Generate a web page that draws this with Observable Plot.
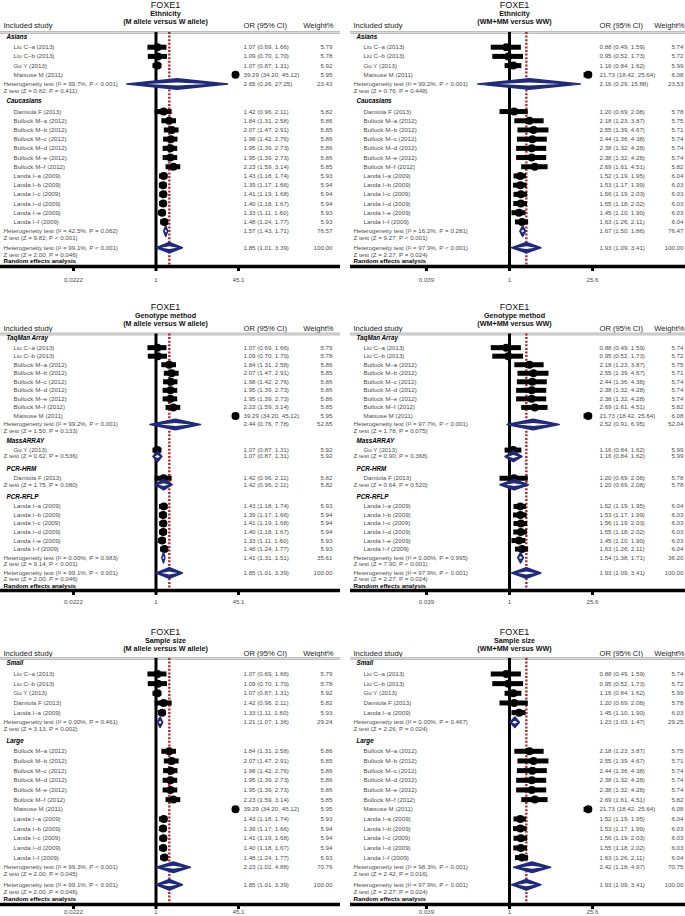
<!DOCTYPE html>
<html>
<head>
<meta charset="utf-8">
<script src="https://cdn.jsdelivr.net/npm/d3@7"></script>
<script src="https://cdn.jsdelivr.net/npm/@observablehq/plot@0.6"></script>
<style>
  html,body{margin:0;padding:0;background:#fff;}
  #fig{position:relative;width:685px;height:916px;overflow:hidden;background:#fff;}
  #fig > div{position:absolute;}
  #fig svg{display:block;overflow:visible;}
</style>
</head>
<body>
<div id="fig"></div>
<script>
// ---------- DATA ----------
const studyNames = ["Liu C–a (2013)","Liu C–b (2013)","Gu Y (2013)","Matsuse M (2011)","Damiola F (2013)",
  "Bullock M–a (2012)","Bullock M–b (2012)","Bullock M–c (2012)","Bullock M–d (2012)","Bullock M–e (2012)","Bullock M–f (2012)",
  "Landa I–a (2009)","Landa I–b (2009)","Landa I–c (2009)","Landa I–d (2009)","Landa I–e (2009)","Landa I–f (2009)"];

// M allele versus W allele
const alleleOR = [1.07,1.09,1.07,39.29,1.42,1.84,2.07,1.98,1.95,1.95,2.23,1.43,1.39,1.41,1.40,1.33,1.48];
const alleleLo = [0.69,0.70,0.87,34.20,0.96,1.31,1.47,1.42,1.39,1.39,1.59,1.18,1.17,1.19,1.18,1.11,1.24];
const alleleHi = [1.66,1.70,1.31,45.12,2.11,2.58,2.91,2.76,2.73,2.73,3.14,1.74,1.66,1.68,1.67,1.60,1.77];
const alleleW  = [5.79,5.78,5.92,5.95,5.82,5.86,5.85,5.86,5.86,5.86,5.85,5.93,5.94,5.94,5.94,5.93,5.93];
const alleleOverall = [1.85,1.01,3.39,100.00];
const alleleOverallStats = ["99.1%","< 0.001","2.00","= 0.046"];
const alleleTicks = [0.0222,1,45.1];
const alleleTickLabels = ["0.0222","1","45.1"];

// WM+MM versus WW
const domOR = [0.88,0.95,1.16,21.73,1.20,2.18,2.55,2.44,2.38,2.38,2.69,1.52,1.53,1.56,1.55,1.45,1.63];
const domLo = [0.49,0.52,0.84,18.42,0.69,1.23,1.39,1.36,1.32,1.32,1.61,1.19,1.17,1.19,1.18,1.10,1.26];
const domHi = [1.59,1.73,1.62,25.64,2.08,3.87,4.67,4.38,4.28,4.28,4.51,1.95,1.99,2.03,2.02,1.90,2.11];
const domW  = [5.74,5.72,5.99,6.08,5.78,5.75,5.71,5.74,5.74,5.74,5.82,6.04,6.03,6.03,6.03,6.03,6.04];
const domOverall = [1.93,1.09,3.41,100.00];
const domOverallStats = ["97.9%","< 0.001","2.27","= 0.024"];
const domTicks = [0.039,1,25.6];
const domTickLabels = ["0.039","1","25.6"];

// subgroupings (indices into studyNames)
const ethnicityGroups = ["Asians","Caucasians"];
const ethnicityMembers = [[0,1,2,3],[4,5,6,7,8,9,10,11,12,13,14,15,16]];
const methodGroups = ["TaqMan Array","MassARRAY","PCR-HRM","PCR-RFLP"];
const methodMembers = [[0,1,5,6,7,8,9,10,3],[2],[4],[11,12,13,14,15,16]];
const sizeGroups = ["Small","Large"];
const sizeMembers = [[0,1,2,4,15],[5,6,7,8,9,10,3,11,12,13,14,16]];
const sizeLabels = [[null,null,null,null,"Landa I–a (2009)"], null]; // as printed

// subgroup pooled results: [OR, lo, hi, weight]
const ethAlleleSub = [[2.65,0.26,27.25,23.43],[1.57,1.43,1.71,76.57]];
const ethAlleleI2 = ["99.7%","42.5%"], ethAlleleHetP = ["< 0.001","= 0.062"];
const ethAlleleZ = ["0.82","9.82"], ethAlleleZP = ["= 0.411","< 0.001"];

const ethDomSub = [[2.16,0.29,15.88,23.53],[1.67,1.50,1.86,76.47]];
const ethDomI2 = ["99.2%","16.2%"], ethDomHetP = ["< 0.001","= 0.281"];
const ethDomZ = ["0.76","9.27"], ethDomZP = ["= 0.448","< 0.001"];

const metAlleleSub = [[2.44,0.76,7.78,52.65],[1.07,0.87,1.31,5.92],[1.42,0.96,2.11,5.82],[1.41,1.31,1.51,35.61]];
const metAlleleI2 = ["99.2%",null,null,"0.00%"], metAlleleHetP = ["< 0.001",null,null,"= 0.983"];
const metAlleleZ = ["1.50","0.62","1.75","9.14"], metAlleleZP = ["= 0.133","= 0.536","= 0.080","< 0.001"];

const metDomSub = [[2.52,0.91,6.95,52.04],[1.16,0.84,1.62,5.99],[1.20,0.69,2.08,5.78],[1.54,1.38,1.71,36.20]];
const metDomI2 = ["97.7%",null,null,"0.00%"], metDomHetP = ["< 0.001",null,null,"= 0.995"];
const metDomZ = ["1.78","0.90","0.64","7.90"], metDomZP = ["= 0.075","= 0.368","= 0.520","< 0.001"];

const sizAlleleSub = [[1.21,1.07,1.36,29.24],[2.23,1.02,4.88,70.76]];
const sizAlleleI2 = ["0.00%","99.3%"], sizAlleleHetP = ["= 0.461","< 0.001"];
const sizAlleleZ = ["3.13","2.00"], sizAlleleZP = ["= 0.002","= 0.045"];

const sizDomSub = [[1.23,1.03,1.47,29.25],[2.42,1.18,4.97,70.75]];
const sizDomI2 = ["0.00%","98.3%"], sizDomHetP = ["= 0.467","< 0.001"];
const sizDomZ = ["2.26","2.42"], sizDomZP = ["= 0.024","= 0.016"];

// ---------- LAYOUT ----------
const models = {
  allele: {or: alleleOR, lo: alleleLo, hi: alleleHi, w: alleleW, overall: alleleOverall, stats: alleleOverallStats,
           ticks: alleleTicks, tickLabels: alleleTickLabels, title: "(M allele versus W allele)"},
  dom: {or: domOR, lo: domLo, hi: domHi, w: domW, overall: domOverall, stats: domOverallStats,
        ticks: domTicks, tickLabels: domTickLabels, title: "(WM+MM versus WW)"}
};
const panels = [
  {row:0, col:0, model:"allele", subtitle:"Ethnicity", groups:ethnicityGroups, members:ethnicityMembers, labels:null, sub:ethAlleleSub, I2:ethAlleleI2, hetP:ethAlleleHetP, Z:ethAlleleZ, zP:ethAlleleZP},
  {row:0, col:1, model:"dom", subtitle:"Ethnicity", groups:ethnicityGroups, members:ethnicityMembers, labels:null, sub:ethDomSub, I2:ethDomI2, hetP:ethDomHetP, Z:ethDomZ, zP:ethDomZP},
  {row:1, col:0, model:"allele", subtitle:"Genotype method", groups:methodGroups, members:methodMembers, labels:null, sub:metAlleleSub, I2:metAlleleI2, hetP:metAlleleHetP, Z:metAlleleZ, zP:metAlleleZP},
  {row:1, col:1, model:"dom", subtitle:"Genotype method", groups:methodGroups, members:methodMembers, labels:null, sub:metDomSub, I2:metDomI2, hetP:metDomHetP, Z:metDomZ, zP:metDomZP},
  {row:2, col:0, model:"allele", subtitle:"Sample size", groups:sizeGroups, members:sizeMembers, labels:sizeLabels, sub:sizAlleleSub, I2:sizAlleleI2, hetP:sizAlleleHetP, Z:sizAlleleZ, zP:sizAlleleZP},
  {row:2, col:1, model:"dom", subtitle:"Sample size", groups:sizeGroups, members:sizeMembers, labels:sizeLabels, sub:sizDomSub, I2:sizDomI2, hetP:sizDomHetP, Z:sizDomZ, zP:sizDomZP}
];
const rowGeom = [
  {top:0,   height:300, L:32,   A:266, titleY:[5,13.6,21.5],   headY:24.8, tickDy:14},
  {top:300, height:326, L:33.5, A:290, titleY:[6.2,15,23.2],   headY:28.3, tickDy:11.5},
  {top:626, height:290, L:32,   A:278, titleY:[5.5,14.6,22.4], headY:27.3, tickDy:8}
];
const colGeom = [
  {left:0,   width:340, range:[73,238], titleX:165, orX:243, wX:332},
  {left:350, width:335, range:[76,242], titleX:164, orX:249, wX:333}
];
const NAVY = "#1f2a7c", RED = "#b0262c", GREY = "#4d4d4d", FONT = "Liberation Sans, Arial, sans-serif";
const fmt = r => `${r.or.toFixed(2)} (${r.lo.toFixed(2)}, ${r.hi.toFixed(2)})`;

function drawPanel(p) {
  const m = models[p.model], rg = rowGeom[p.row], cg = colGeom[p.col];
  const rows = []; let u = 0, prev = null;
  p.groups.forEach((g, gi) => {
    u += gi === 0 ? 0.5 : (prev === "het" ? 1.9 : 1.45);
    rows.push({type:"group", u, label:g});
    u += 1.1;
    p.members[gi].forEach((k, i) => {
      if (i > 0) u += 1;
      const lab = p.labels && p.labels[gi] && p.labels[gi][i];
      rows.push({type:"study", u, label: lab || studyNames[k], or:m.or[k], lo:m.lo[k], hi:m.hi[k], w:m.w[k]});
    });
    const s = p.sub[gi];
    if (p.I2[gi]) {
      u += 1;
      rows.push({type:"sum", u, or:s[0], lo:s[1], hi:s[2], w:s[3]});
      rows.push({type:"note", u, label:`Heterogeneity test (I² = ${p.I2[gi]}, P ${p.hetP[gi]})`});
      rows.push({type:"note", u:u + 0.72, label:`Z test (Z = ${p.Z[gi]}, P ${p.zP[gi]})`});
      prev = "het";
    } else {
      u += 0.75;
      rows.push({type:"sum", u, or:s[0], lo:s[1], hi:s[2], w:s[3]});
      rows.push({type:"note", u, label:`Z test (Z = ${p.Z[gi]}, P ${p.zP[gi]})`});
      prev = "z";
    }
  });
  u += 1.8;
  const o = m.overall, os = m.stats;
  rows.push({type:"sum", u, or:o[0], lo:o[1], hi:o[2], w:o[3]});
  rows.push({type:"note", u, label:`Heterogeneity test (I² = ${os[0]}, P ${os[1]})`});
  rows.push({type:"note", u:u + 0.75, label:`Z test (Z = ${os[2]}, P ${os[3]})`});
  rows.push({type:"bold", u:u + 1.48, label:"Random effects analysis"});
  const U = u + 2.05;
  const pxPerUnit = (rg.A - rg.L) / U;
  const h = 5.2 / pxPerUnit;

  const studies = rows.filter(r => r.type === "study");
  const sums = rows.filter(r => r.type === "sum");
  const valued = rows.filter(r => r.type === "study" || r.type === "sum");
  const diamond = [], inner = [];
  sums.forEach((r, i) => {
    diamond.push({id:i, x:r.lo, y:r.u}, {id:i, x:r.or, y:r.u - h}, {id:i, x:r.hi, y:r.u}, {id:i, x:r.or, y:r.u + h}, {id:i, x:r.lo, y:r.u});
    const il = Math.exp(Math.log(r.or) - 0.6 * Math.log(r.or / r.lo));
    const ih = Math.exp(Math.log(r.or) + 0.6 * Math.log(r.hi / r.or));
    inner.push({id:i, x:il, y:r.u}, {id:i, x:r.or, y:r.u - h * 0.28}, {id:i, x:ih, y:r.u}, {id:i, x:r.or, y:r.u + h * 0.28}, {id:i, x:il, y:r.u});
  });

  const small = {fontSize: 6.2, fill: GREY};
  const head = {frameAnchor: "top-left", lineAnchor: "middle"};
  const chart = Plot.plot({
    width: cg.width, height: rg.height,
    marginTop: 0, marginRight: 0, marginBottom: 0, marginLeft: 0,
    x: {type: "log", domain: [m.ticks[0], m.ticks[2]], range: cg.range, axis: null},
    y: {domain: [0, U], range: [rg.L, rg.A], axis: null},
    style: {fontFamily: FONT, background: "white", overflow: "visible"},
    marks: [
      // titles and column headings
      Plot.text(["FOXE1"], {...head, dx: cg.titleX, dy: rg.titleY[0], textAnchor: "middle", fontSize: 9, fill: "#111"}),
      Plot.text([p.subtitle], {...head, dx: cg.titleX, dy: rg.titleY[1], textAnchor: "middle", fontSize: 7.2, fontWeight: "bold", fill: "#111"}),
      Plot.text([m.title], {...head, dx: cg.titleX, dy: rg.titleY[2], textAnchor: "middle", fontSize: 7.2, fontWeight: "bold", fill: "#111"}),
      Plot.text(["Included study"], {...head, dx: 3, dy: rg.headY, textAnchor: "start", fontSize: 7.6, fill: "#222"}),
      Plot.text(["OR (95% CI)"], {...head, dx: cg.orX, dy: rg.headY, textAnchor: "start", fontSize: 7.6, fill: "#222"}),
      Plot.text(["Weight%"], {...head, dx: cg.wX + 1, dy: rg.headY, textAnchor: "end", fontSize: 7.6, fill: "#222"}),
      // header rule
      Plot.ruleY([0], {stroke: "#bdbdbd", strokeWidth: 3}),
      Plot.ruleY([0], {stroke: "#e6e6e6", strokeWidth: 0.7}),
      // reference lines and axis
      Plot.ruleX([o[0]], {y1: 0, y2: U, stroke: RED, strokeWidth: 2.4, strokeDasharray: "2,1.6"}),
      Plot.ruleX([1], {y1: 0, y2: U, stroke: "black", strokeWidth: 3}),
      Plot.ruleY([U], {stroke: "black", strokeWidth: 3.5}),
      Plot.ruleX(m.ticks, {x: d => d, y1: U, y2: U + 5 / pxPerUnit, stroke: "black", strokeWidth: 3}),
      Plot.text(m.ticks, {x: d => d, y: U, dy: rg.tickDy, text: (d, i) => m.tickLabels[i], fontSize: 6.2, fill: GREY}),
      // studies
      Plot.ruleY(studies, {y: "u", x1: "lo", x2: "hi", stroke: "black", strokeWidth: 5}),
      Plot.dot(studies, {x: "or", y: "u", r: 4, fill: "black"}),
      // pooled diamonds
      Plot.line(diamond, {x: "x", y: "y", z: "id", fill: NAVY, stroke: NAVY, strokeWidth: 1.6, curve: "linear"}),
      Plot.line(inner, {x: "x", y: "y", z: "id", fill: "white", stroke: "none", curve: "linear"}),
      // left labels
      Plot.text(rows.filter(r => r.type === "group"), {y: "u", text: "label", frameAnchor: "left", dx: 6, textAnchor: "start", fontSize: 6.3, fontWeight: "bold", fontStyle: "italic", fill: "black"}),
      Plot.text(studies, {y: "u", text: "label", frameAnchor: "left", dx: 13, textAnchor: "start", ...small}),
      Plot.text(rows.filter(r => r.type === "note"), {y: "u", text: "label", frameAnchor: "left", dx: 3, textAnchor: "start", ...small}),
      Plot.text(rows.filter(r => r.type === "bold"), {y: "u", text: "label", frameAnchor: "left", dx: 3, textAnchor: "start", fontSize: 6.2, fontWeight: "bold", fill: "black"}),
      // right columns
      Plot.text(valued, {y: "u", text: fmt, frameAnchor: "left", dx: cg.orX, textAnchor: "start", ...small}),
      Plot.text(valued, {y: "u", text: r => r.w.toFixed(2), frameAnchor: "left", dx: cg.wX, textAnchor: "end", ...small})
    ]
  });
  const holder = document.createElement("div");
  holder.style.left = cg.left + "px";
  holder.style.top = rg.top + "px";
  holder.style.width = cg.width + "px";
  holder.style.height = rg.height + "px";
  holder.appendChild(chart);
  document.getElementById("fig").appendChild(holder);
}
panels.forEach(drawPanel);
</script>
</body>
</html>
